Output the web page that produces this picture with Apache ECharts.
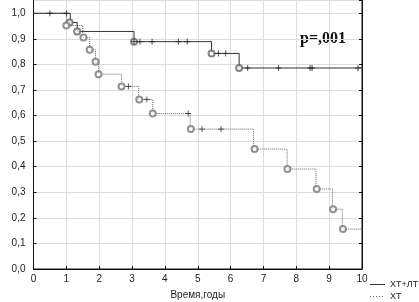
<!DOCTYPE html>
<html>
<head>
<meta charset="utf-8">
<script src="https://cdn.jsdelivr.net/npm/echarts@6/dist/echarts.min.js"></script>
<style>
	html, body { margin: 0; padding: 0; background: #fff; }
	#km_chart { width: 419px; height: 302px; }
</style>
</head>
<body>
<div id="km_chart"></div>
<script>
	// ХТ+ЛТ : ступенчатая кривая, события (кружки), цензурированные (+)
	var xtltLine = [[0, 1], [1.12, 0.964], [1.33, 0.929], [3.06, 0.889], [5.42, 0.843], [6.26, 0.786], [10, 0.786]];
	var xtltEvents = [[1.1, 0.964], [1.33, 0.929], [3.06, 0.889], [5.42, 0.843], [6.26, 0.786]];
	var xtltCensored = [[0.5, 1], [1.0, 1], [3.06, 0.889], [3.24, 0.889], [3.61, 0.889], [4.41, 0.889], [4.68, 0.889],
		[5.63, 0.843], [5.85, 0.843], [6.52, 0.786], [7.46, 0.786], [8.42, 0.786], [8.48, 0.786], [9.88, 0.786]];

	// ХТ
	var xtLine = [[0, 1], [1.0, 0.952], [1.5, 0.905], [1.71, 0.857], [1.89, 0.810], [1.98, 0.762], [2.68, 0.714],
		[3.2, 0.663], [3.63, 0.608], [4.77, 0.547], [6.7, 0.469], [7.72, 0.391], [8.6, 0.313], [9.1, 0.234],
		[9.4, 0.156], [10, 0.156]];
	var xtEvents = [[1.0, 0.952], [1.52, 0.905], [1.71, 0.857], [1.89, 0.810], [1.98, 0.762], [2.68, 0.714],
		[3.22, 0.663], [3.63, 0.608], [4.79, 0.547], [6.73, 0.469], [7.73, 0.391], [8.62, 0.313], [9.12, 0.234],
		[9.42, 0.156]];
	var xtCensored = [[2.89, 0.714], [3.45, 0.663], [4.71, 0.608], [5.13, 0.547], [5.71, 0.547]];

	var legendNames = ['ХТ+ЛТ', 'ХТ'];
	var xTicks = { min: 0, max: 10, step: 1 };
	var yTicks = { min: 0, max: 1.05, step: 0.1 };

	var plusPath = 'path://M0,5 L10,5 M5,0 L5,10';
	var textColor = '#222';
	var font10 = 'Liberation Sans';

	function comma(v) {
		return v.toFixed(1).replace('.', ',');
	}

	var km_chart = echarts.init(document.getElementById('km_chart'));

	km_chart.setOption({
		animation: false,
		grid: {
			left: 33.5,
			right: 57,
			top: 0.5,
			bottom: 33,
			outerBoundsMode: 'none',
			containLabel: false,
			show: true,
			borderColor: '#111',
			borderWidth: 1
		},
		// легенда справа внизу, нарисована вручную
		graphic: [{
			type: 'text',
			left: 300,
			top: 31,
			style: { text: 'p=,001', font: 'bold 16px "Liberation Serif"', fill: '#111' }
		}, {
			type: 'line',
			shape: { x1: 370, y1: 284.5, x2: 385, y2: 284.5 },
			style: { stroke: '#333', lineWidth: 1 }
		}, {
			type: 'text',
			left: 390,
			top: 280,
			style: { text: legendNames[0], font: '9px "Liberation Sans"', fill: textColor }
		}, {
			type: 'line',
			shape: { x1: 370, y1: 296.5, x2: 385, y2: 296.5 },
			style: { stroke: '#666', lineWidth: 1, lineDash: [1, 2] }
		}, {
			type: 'text',
			left: 390,
			top: 292,
			style: { text: legendNames[1], font: '9px "Liberation Sans"', fill: textColor }
		}],
		xAxis: {
			type: 'value',
			min: xTicks.min,
			max: xTicks.max,
			interval: xTicks.step,
			name: 'Время,годы',
			nameLocation: 'middle',
			nameGap: 21,
			nameTextStyle: { fontSize: 10, color: textColor, fontFamily: font10 },
			axisLine: { lineStyle: { color: '#111', width: 1 } },
			axisTick: { inside: true, length: 3, lineStyle: { color: '#111' } },
			axisLabel: { fontSize: 10, color: textColor, margin: 5, fontFamily: font10 },
			splitLine: { show: true, lineStyle: { color: '#dcdcdc', width: 1 } }
		},
		yAxis: [{
			type: 'value',
			min: yTicks.min,
			max: yTicks.max,
			interval: yTicks.step,
			name: 'Кумулятивная доля выживших',
			nameLocation: 'middle',
			nameGap: 27,
			nameTextStyle: { fontSize: 10, color: textColor, fontFamily: font10 },
			axisLine: { show: true, lineStyle: { color: '#111', width: 1 } },
			axisTick: { show: true, inside: true, length: 3, lineStyle: { color: '#111' } },
			axisLabel: {
				fontSize: 10, color: textColor, margin: 8, showMaxLabel: false,
				fontFamily: font10, formatter: comma
			},
			splitLine: { show: true, lineStyle: { color: '#dcdcdc', width: 1 } }
		}, {
			// правая рамка с засечками
			type: 'value',
			position: 'right',
			min: yTicks.min,
			max: yTicks.max,
			interval: yTicks.step,
			axisLine: { show: true, lineStyle: { color: '#111', width: 1 } },
			axisTick: { show: true, inside: true, length: 3, lineStyle: { color: '#111' } },
			axisLabel: { show: false },
			splitLine: { show: false }
		}],
		series: [{
			name: legendNames[0],
			type: 'line',
			step: 'end',
			symbol: 'none',
			data: xtltLine,
			lineStyle: { color: '#333', width: 1 },
			z: 3
		}, {
			name: legendNames[1],
			type: 'line',
			step: 'end',
			symbol: 'none',
			data: xtLine,
			lineStyle: { color: '#666', width: 1, type: 'dotted' },
			z: 2
		}, {
			name: 'xtlt_events',
			type: 'scatter',
			data: xtltEvents,
			symbol: 'emptyCircle',
			symbolSize: 6,
			itemStyle: { color: '#666', borderWidth: 0.8 },
			z: 4
		}, {
			name: 'xt_events',
			type: 'scatter',
			data: xtEvents,
			symbol: 'emptyCircle',
			symbolSize: 6,
			itemStyle: { color: '#777', borderWidth: 0.8 },
			z: 4
		}, {
			name: 'xtlt_cens',
			type: 'scatter',
			data: xtltCensored,
			symbol: plusPath,
			symbolSize: 6,
			itemStyle: { color: 'none', borderColor: '#222', borderWidth: 1 },
			z: 5
		}, {
			name: 'xt_cens',
			type: 'scatter',
			data: xtCensored,
			symbol: plusPath,
			symbolSize: 6,
			itemStyle: { color: 'none', borderColor: '#333', borderWidth: 1 },
			z: 5
		}]
	});
</script>
</body>
</html>
